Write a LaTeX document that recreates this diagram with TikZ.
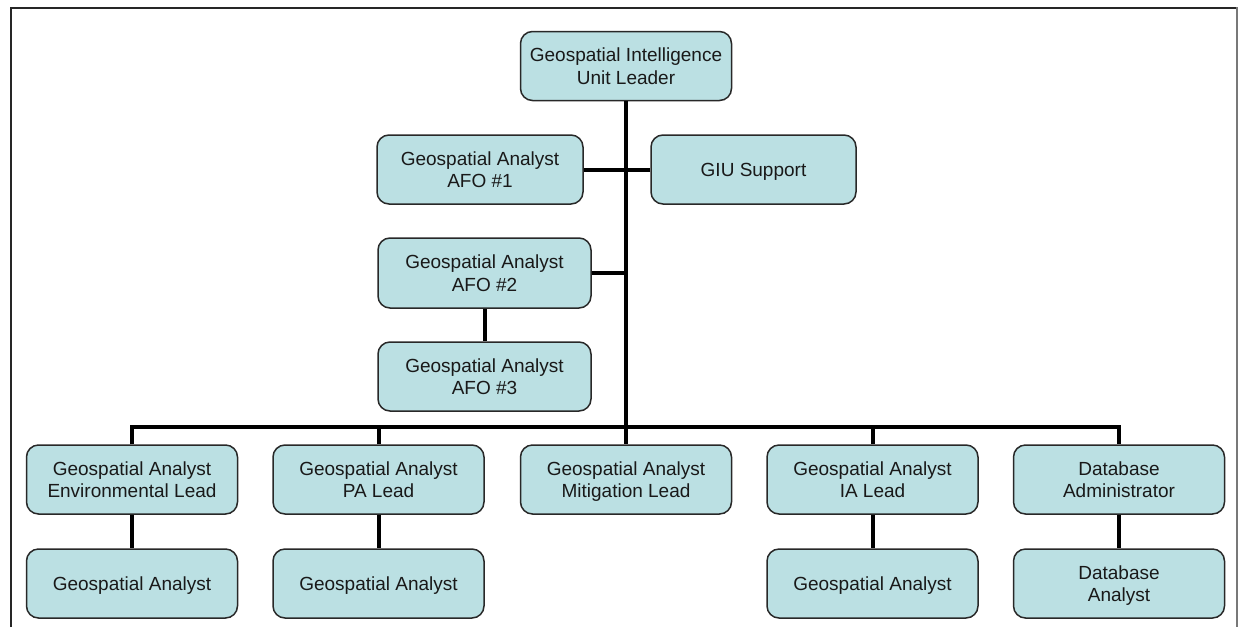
\documentclass[tikz,border=0pt]{standalone}
\usepackage{fontspec}
\setmainfont{Liberation Sans}
\definecolor{boxfill}{RGB}{187,224,227}
\definecolor{boxline}{RGB}{40,40,40}
\definecolor{frameright}{RGB}{120,120,120}
\tikzset{
  unit/.style={rectangle, rounded corners=12pt, draw=boxline, line width=1.5pt,
    fill=boxfill, align=center, inner sep=2pt, text depth=0pt,
    font=\fontsize{19}{22.6}\selectfont, text=black!90},
  wide/.style={unit, minimum width=211pt, minimum height=69pt},
  link/.style={line width=4pt, black, line join=miter}
}
\begin{document}
\begin{tikzpicture}[x=1pt,y=-1pt]
  \useasboundingbox (0,0) rectangle (1241,627);
  % page frame (open at the bottom)
  \draw[line width=2pt, black!85] (11,627) -- (11,8) -- (1237,8);
  \draw[line width=2.5pt, frameright] (1237,7) -- (1237,627);

  % leader and staff positions
  \node[wide] (lead) at (626,66) {Geospatial Intelligence\\Unit Leader};
  \node[unit, minimum width=206pt, minimum height=69pt] (afo1) at (480,169.5) {Geospatial Analyst\\AFO \#1};
  \node[unit, minimum width=205pt, minimum height=69pt] (giu) at (753.5,169.5) {GIU Support};
  \node[unit, minimum width=213pt, minimum height=70pt] (afo2) at (484.5,273) {Geospatial Analyst\\AFO \#2};
  \node[unit, minimum width=213pt, minimum height=69pt] (afo3) at (484.5,376.5) {Geospatial Analyst\\AFO \#3};

  % team leads
  \node[wide] (env) at (132,479.5) {Geospatial Analyst\\Environmental Lead};
  \node[wide] (pa)  at (378.5,479.5) {Geospatial Analyst\\PA Lead};
  \node[wide] (mit) at (626,479.5) {Geospatial Analyst\\Mitigation Lead};
  \node[wide] (ia)  at (872.5,479.5) {Geospatial Analyst\\IA Lead};
  \node[wide] (dba) at (1119,479.5) {Database\\Administrator};

  % analysts
  \node[wide] (envA) at (132,583.5) {Geospatial Analyst};
  \node[wide] (paA)  at (378.5,583.5) {Geospatial Analyst};
  \node[wide] (iaA)  at (872.5,583.5) {Geospatial Analyst};
  \node[wide] (dbA)  at (1119,583.5) {Database\\Analyst};

  \coordinate (bus) at (0,427);

  % trunk and side branches
  \draw[link] (lead.south) -- (mit.north);
  \draw[link] (afo1.east) -- (afo1.east -| lead.south);
  \draw[link] (giu.west) -- (giu.west -| lead.south);
  \draw[link] (afo2.east) -- (afo2.east -| lead.south);
  \draw[link] (afo2.south) -- (afo3.north);

  % distribution bus to the team leads
  \draw[link] (env.north) -- (env.north |- bus) -- (dba.north |- bus) -- (dba.north);
  \draw[link] (pa.north) -- (pa.north |- bus);
  \draw[link] (ia.north) -- (ia.north |- bus);

  % leads to analysts
  \draw[link] (env.south) -- (envA.north);
  \draw[link] (pa.south) -- (paA.north);
  \draw[link] (ia.south) -- (iaA.north);
  \draw[link] (dba.south) -- (dbA.north);
\end{tikzpicture}
\end{document}
